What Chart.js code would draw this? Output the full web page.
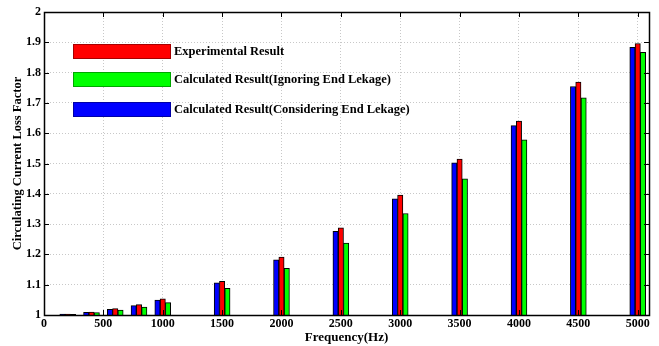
<!DOCTYPE html>
<html>
<head>
<meta charset="utf-8">
<script src="https://cdn.jsdelivr.net/npm/chart.js@4.4.1/dist/chart.umd.min.js"></script>
<style>
  html, body { margin: 0; padding: 0; background: #ffffff; }
  #wrap { width: 659px; height: 346px; }
</style>
</head>
<body>
<div id="wrap"><canvas id="c" width="659" height="346"></canvas></div>
<script>
// Frequencies (Hz) at which the loss factor was evaluated
const frequencies = [200, 400, 600, 800, 1000, 1500, 2000, 2500, 3000, 3500, 4000, 4500, 5000];

// Circulating current loss factor per method
const consideringEndLeakage = [1.003, 1.009, 1.019, 1.031, 1.049, 1.106, 1.182, 1.276, 1.383, 1.502, 1.625, 1.754, 1.883];
const experimental          = [1.003, 1.010, 1.021, 1.034, 1.053, 1.111, 1.191, 1.288, 1.396, 1.515, 1.640, 1.769, 1.896];
const ignoringEndLeakage    = [1.002, 1.008, 1.016, 1.026, 1.041, 1.088, 1.154, 1.237, 1.335, 1.449, 1.578, 1.717, 1.867];

// Axis tick values
const xTicks = [0, 500, 1000, 1500, 2000, 2500, 3000, 3500, 4000, 4500, 5000];
const yTicks = [1, 1.1, 1.2, 1.3, 1.4, 1.5, 1.6, 1.7, 1.8, 1.9, 2];

const FONT = "'Liberation Serif', 'Times New Roman', serif";

const toPoints = (vals) => frequencies.map((f, i) => ({ x: f, y: vals[i] }));

// Legend boxes drawn inside the plot, experimental first
const legendBoxes = {
  id: 'legendBoxes',
  afterDatasetsDraw(chart) {
    const ctx = chart.ctx;
    const order = [1, 2, 0];
    const rows = [44, 72, 102];
    ctx.save();
    order.forEach((di, k) => {
      const ds = chart.data.datasets[di];
      const y = rows[k];
      ctx.fillStyle = ds.backgroundColor;
      ctx.fillRect(73, y, 98, 15);
      ctx.strokeStyle = 'rgba(0,0,0,0.35)';
      ctx.lineWidth = 1;
      ctx.strokeRect(73.5, y + 0.5, 97, 14);
      ctx.fillStyle = '#000';
      ctx.font = 'bold 12.5px ' + FONT;
      ctx.textBaseline = 'middle';
      ctx.textAlign = 'left';
      ctx.fillText(ds.label, 174, y + 8);
    });
    ctx.restore();
  }
};

// Box frame with inward tick marks on all four sides
const frameTicks = {
  id: 'frameTicks',
  afterDraw(chart) {
    const ctx = chart.ctx;
    const a = chart.chartArea;
    const xs = chart.scales.x, ys = chart.scales.y;
    const L = 5;
    ctx.save();
    ctx.strokeStyle = '#000';
    ctx.lineWidth = 1;
    ctx.beginPath();
    xTicks.forEach(v => {
      const px = Math.round(xs.getPixelForValue(v)) + 0.5;
      ctx.moveTo(px, a.top); ctx.lineTo(px, a.top + L);
      ctx.moveTo(px, a.bottom); ctx.lineTo(px, a.bottom - L);
    });
    yTicks.forEach(v => {
      const py = Math.round(ys.getPixelForValue(v)) + 0.5;
      ctx.moveTo(a.left, py); ctx.lineTo(a.left + L, py);
      ctx.moveTo(a.right, py); ctx.lineTo(a.right - L, py);
    });
    ctx.stroke();
    ctx.lineWidth = 1.5;
    ctx.strokeRect(Math.round(a.left) + 0.5, Math.round(a.top) + 0.5,
                   Math.round(a.right - a.left), Math.round(a.bottom - a.top));
    ctx.restore();
  }
};

const whiteBg = {
  id: 'whiteBg',
  beforeDraw(chart) {
    const ctx = chart.ctx;
    ctx.save();
    ctx.fillStyle = '#fff';
    ctx.fillRect(0, 0, chart.width, chart.height);
    ctx.restore();
  }
};

const barStyle = { borderColor: '#000', borderWidth: 1, barThickness: 5.3, grouped: true };

new Chart(document.getElementById('c'), {
  type: 'bar',
  data: {
    datasets: [
      Object.assign({ label: 'Calculated Result(Considering End Lekage)', data: toPoints(consideringEndLeakage), backgroundColor: '#0000ff' }, barStyle),
      Object.assign({ label: 'Experimental Result', data: toPoints(experimental), backgroundColor: '#ff0000' }, barStyle),
      Object.assign({ label: 'Calculated Result(Ignoring End Lekage)', data: toPoints(ignoringEndLeakage), backgroundColor: '#00ff00' }, barStyle)
    ]
  },
  options: {
    responsive: false,
    animation: false,
    devicePixelRatio: 1,
    layout: { padding: { left: 0, top: 12, right: 10, bottom: 0 } },
    plugins: {
      legend: { display: false },
      tooltip: { enabled: false }
    },
    scales: {
      x: {
        type: 'linear',
        offset: false,
        min: 0,
        max: 5095,
        afterBuildTicks: (s) => { s.ticks = xTicks.map(v => ({ value: v })); },
        afterFit: (s) => { s.height = 31; },
        grid: { color: '#c8c8c8', lineWidth: 1, drawTicks: false, offset: false },
        border: { display: false, dash: [1, 2] },
        ticks: {
          color: '#000', padding: 2, maxRotation: 0, autoSkip: false,
          font: { family: FONT, size: 12, weight: 'bold' },
          callback: (v) => String(v)
        },
        title: {
          display: true, text: 'Frequency(Hz)', color: '#000',
          font: { family: FONT, size: 13, weight: 'bold' },
          padding: { top: 0, bottom: 1 }
        }
      },
      y: {
        type: 'linear',
        min: 1,
        max: 2,
        afterBuildTicks: (s) => { s.ticks = yTicks.map(v => ({ value: v })); },
        afterFit: (s) => { s.width = 44; },
        grid: { color: '#c8c8c8', lineWidth: 1, drawTicks: false },
        border: { display: false, dash: [1, 2] },
        ticks: {
          color: '#000', padding: 3,
          font: { family: FONT, size: 12, weight: 'bold' },
          callback: (v) => String(Math.round(v * 10) / 10)
        },
        title: {
          display: true, text: 'Circulating Current Loss Factor', color: '#000',
          font: { family: FONT, size: 12.5, weight: 'bold' },
          padding: { top: 10, bottom: 0 }
        }
      }
    }
  },
  plugins: [whiteBg, legendBoxes, frameTicks]
});
</script>
</body>
</html>
